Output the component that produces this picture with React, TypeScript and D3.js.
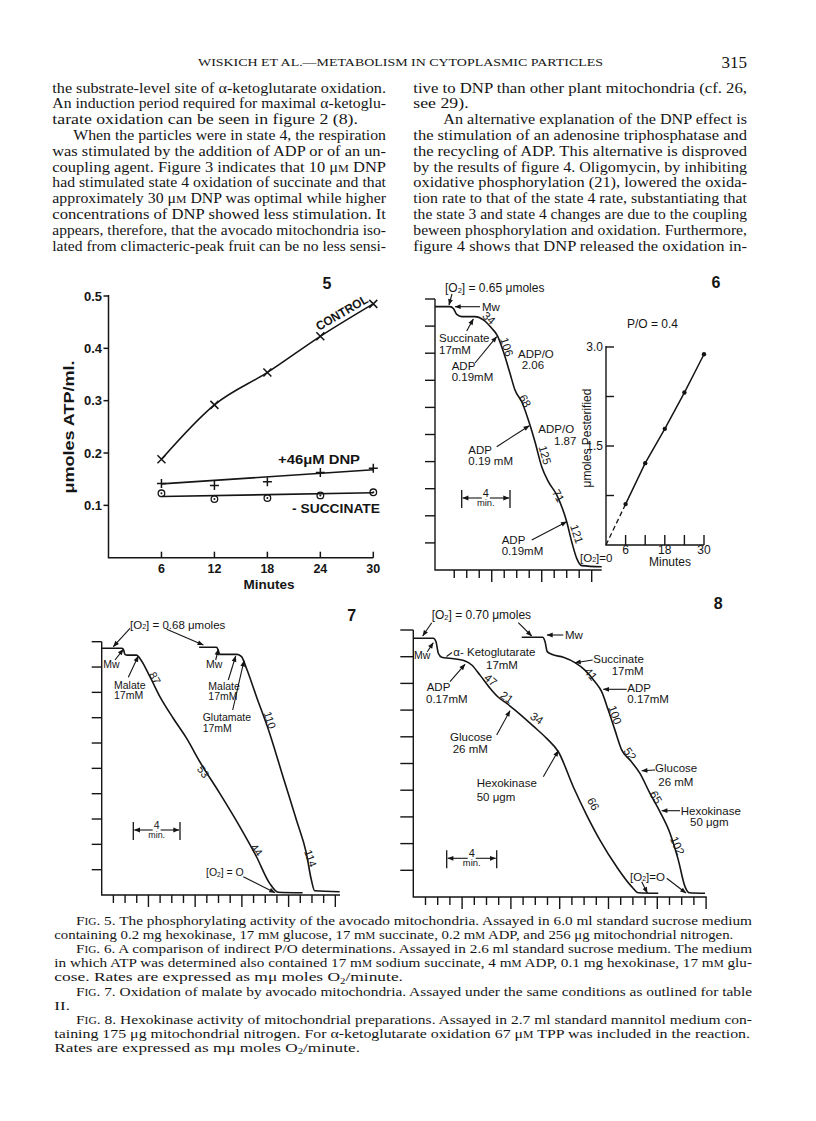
import React from "react";
import * as d3 from "d3";

// ---------- Fig. 5 : ATP formed vs time ----------
const minutes5 = [6, 12, 18, 24, 30];
const control5 = [0.188, 0.292, 0.354, 0.423, 0.485];
const dnp5 = [0.142, 0.138, 0.145, 0.163, 0.171];
const noSuccinate5 = [0.123, 0.112, 0.114, 0.119, 0.125];
const fitMinutes5 = [6, 30];
const dnpFit5 = [0.141, 0.168];
const noSuccinateFit5 = [0.117, 0.124];
const yTicks5 = [0.1, 0.2, 0.3, 0.4, 0.5];

// ---------- Fig. 6 : oxygen trace + P esterified ----------
const trace6Min = [0, 1.2, 1.47, 1.74, 2.14, 3.2, 3.87, 4.54, 4.99, 5.47, 6.0, 6.4, 6.94, 7.6, 8.0, 8.54, 9.07, 9.74, 10.54, 10.94, 11.34, 11.74, 13.34];
const trace6O2 = [9.72, 9.72, 9.65, 9.43, 9.35, 9.35, 9.23, 8.92, 8.65, 8.06, 7.26, 6.64, 6.21, 5.35, 4.73, 3.81, 3.26, 2.77, 1.78, 1.04, 0.43, 0.16, 0.12];
const minutes6 = [6, 12, 18, 24, 30];
const pEsterified6 = [0.62, 1.24, 1.76, 2.31, 2.89];
const yTicks6 = [0.75, 1.5, 2.25, 3.0];
const rates6 = ["34", "106", "68", "125", "71", "121"];

// ---------- Fig. 7 : malate traces ----------
const trace7aMin = [0, 1.71, 1.85, 1.99, 2.19, 2.99, 3.27, 4.13, 4.98, 6.12, 7.26, 8.4, 10.11, 11.82, 13.25, 14.38, 15.1, 17.2];
const trace7aO2 = [9.74, 9.74, 9.7, 9.5, 9.47, 9.47, 9.34, 8.62, 7.83, 6.98, 6.19, 5.26, 4.01, 2.7, 1.51, 0.46, 0.11, 0.09];
const trace7bMin = [8.34, 9.83, 9.97, 10.11, 11.59, 11.97, 12.39, 13.25, 14.38, 15.52, 16.67, 17.52, 17.95, 18.23, 20.37];
const trace7bO2 = [9.78, 9.78, 9.67, 9.5, 9.5, 9.41, 8.95, 7.83, 6.38, 4.67, 2.96, 1.65, 0.59, 0.17, 0.13];
const rates7 = ["87", "53", "44", "110", "114"];

// ---------- Fig. 8 : hexokinase traces ----------
const trace8aMin = [0, 1.64, 1.86, 2.05, 2.33, 3.0, 4.24, 4.79, 5.47, 6.29, 6.97, 7.66, 8.34, 9.84, 10.93, 11.89, 13.11, 14.21, 15.3, 16.67, 17.9, 18.44, 20.08];
const trace8aO2 = [9.69, 9.69, 9.56, 9.13, 8.98, 8.94, 8.84, 8.69, 8.31, 7.82, 7.48, 7.25, 7.0, 6.4, 5.94, 5.44, 4.13, 3.07, 2.13, 1.13, 0.39, 0.16, 0.14];
const trace8bMin = [8.89, 10.6, 10.8, 10.98, 11.34, 12.3, 13.25, 14.07, 14.89, 15.44, 15.98, 16.53, 17.08, 17.76, 18.58, 19.4, 20.22, 21.04, 21.72, 22.27, 22.62, 23.91];
const trace8bO2 = [9.73, 9.73, 9.56, 9.19, 9.09, 8.98, 8.78, 8.5, 8.06, 7.69, 7.0, 6.25, 5.51, 5.13, 4.63, 3.88, 3.19, 2.39, 1.39, 0.39, 0.16, 0.14];
const rates8 = ["47", "21", "34", "66", "41", "100", "52", "65", "102"];

// ---------- page text ----------
const headerText = "WISKICH ET AL.—METABOLISM IN CYTOPLASMIC PARTICLES";
const pageNumber = "315";
const leftColumn = [
  "the substrate-level site of α-ketoglutarate oxidation.",
  "An induction period required for maximal α-ketoglu-",
  "tarate oxidation can be seen in figure 2 (8).",
  "When the particles were in state 4, the respiration",
  "was stimulated by the addition of ADP or of an un-",
  "coupling agent.  Figure 3 indicates that 10 μ^{M} DNP",
  "had stimulated state 4 oxidation of succinate and that",
  "approximately 30 μ^{M} DNP was optimal while higher",
  "concentrations of DNP showed less stimulation.  It",
  "appears, therefore, that the avocado mitochondria iso-",
  "lated from climacteric-peak fruit can be no less sensi-",
];
const rightColumn = [
  "tive to DNP than other plant mitochondria (cf. 26,",
  "see 29).",
  "An alternative explanation of the DNP effect is",
  "the stimulation of an adenosine triphosphatase and",
  "the recycling of ADP.  This alternative is disproved",
  "by the results of figure 4.  Oligomycin, by inhibiting",
  "oxidative phosphorylation (21), lowered the oxida-",
  "tion rate to that of the state 4 rate, substantiating that",
  "the state 3 and state 4 changes are due to the coupling",
  "beween phosphorylation and oxidation.  Furthermore,",
  "figure 4 shows that DNP released the oxidation in-",
];
const captions = [
  "F^{IG}. 5.  The phosphorylating activity of the avocado mitochondria.  Assayed in 6.0 ml standard sucrose medium",
  "containing 0.2 mg hexokinase, 17 m^{M} glucose, 17 m^{M} succinate, 0.2 m^{M} ADP, and 256 μg mitochondrial nitrogen.",
  "F^{IG}. 6.  A comparison of indirect P/O determinations. Assayed in 2.6 ml standard sucrose medium.  The medium",
  "in which ATP was determined also contained 17 m^{M} sodium succinate, 4 m^{M} ADP, 0.1 mg hexokinase, 17 m^{M} glu-",
  "cose.  Rates are expressed as mμ moles O_{2}/minute.",
  "F^{IG}. 7.  Oxidation of malate by avocado mitochondria.  Assayed under the same conditions as outlined for table",
  "II.",
  "F^{IG}. 8.  Hexokinase activity of mitochondrial preparations.  Assayed in 2.7 ml standard mannitol medium con-",
  "taining 175 μg mitochondrial nitrogen.  For α-ketoglutarate oxidation 67 μ^{M} TPP was included in the reaction.",
  "Rates are expressed as mμ moles O_{2}/minute.",
];
// 0 = paragraph end, natural (widened) width
const leftStart = [52.3, 52.3, 52.3, 73.3, 52.3, 52.3, 52.3, 52.3, 52.3, 52.3, 52.3];
const leftEnd = [386, 386, 0, 386, 386, 386, 386, 386, 386, 386, 386];
const rightStart = [413.3, 413.3, 443.3, 413.3, 413.3, 413.3, 413.3, 413.3, 413.3, 413.3, 413.3];
const rightEnd = [747, 0, 747, 747, 747, 747, 747, 747, 747, 747, 747];
const capStart = [76, 54.3, 76, 54.3, 54.3, 76, 54.3, 76, 54.3, 54.3];
const capEnd = [752, 733.3, 752, 752, 0, 752, 0, 752, 750, 0];

const INK = "#151515";
const SANS = "'Liberation Sans', Arial, sans-serif";
const SERIF = "'Liberation Serif', 'Times New Roman', serif";

// natural width of a line in the serif face (markup stripped)
let ctx: CanvasRenderingContext2D | null = null;
function measure(s: string, fs: number) {
  if (!ctx) ctx = document.createElement("canvas").getContext("2d");
  const plain = s.replace(/[\^_]\{([^}]*)\}/g, "$1");
  if (!ctx) return plain.length * fs * 0.45;
  ctx.font = `${fs}px 'Liberation Serif'`;
  return ctx.measureText(plain).width;
}

// small markup: ^{..} small caps, _{..} subscript
function Rich({ s, fs }: { s: string; fs: number }) {
  const parts = s.split(/(\^\{[^}]*\}|_\{[^}]*\})/).filter((p) => p !== "");
  const shift = fs * 0.18;
  let sub = false;
  return (
    <>
      {parts.map((p, i) => {
        if (p.startsWith("^{")) {
          const dy = sub ? -shift : undefined;
          sub = false;
          return <tspan key={i} fontSize={fs * 0.74} dy={dy}>{p.slice(2, -1)}</tspan>;
        }
        if (p.startsWith("_{")) {
          sub = true;
          return <tspan key={i} fontSize={fs * 0.62} dy={shift}>{p.slice(2, -1)}</tspan>;
        }
        const dy = sub ? -shift : undefined;
        sub = false;
        return <tspan key={i} dy={dy}>{p}</tspan>;
      })}
    </>
  );
}

const path = (xs: number[], ys: number[], sx: any, sy: any, curve: any = d3.curveMonotoneX) =>
  d3.line<number>().x((_, i) => sx(xs[i])).y((d) => sy(d)).curve(curve)(ys) as string;

function Arrow({ a }: { a: number[] }) {
  return <line x1={a[0]} y1={a[1]} x2={a[2]} y2={a[3]} stroke={INK} strokeWidth={1.1} markerEnd="url(#ah)" />;
}

function Label({ x, y, s, fs = 11.5 }: { x: number; y: number; s: string; fs?: number }) {
  return (
    <text x={x} y={y} fontSize={fs} dominantBaseline="central" fill={INK}>
      <Rich s={s} fs={fs} />
    </text>
  );
}

function Rate({ x, y, a, s, fs = 11.5 }: { x: number; y: number; a: number; s: string; fs?: number }) {
  return (
    <text x={x} y={y} fontSize={fs} textAnchor="middle" dominantBaseline="central" fill={INK} transform={`rotate(${a},${x},${y})`}>
      {s}
    </text>
  );
}

function FourMin({ x1, x2, y, fs = 11 }: { x1: number; x2: number; y: number; fs?: number }) {
  const c = (x1 + x2) / 2;
  return (
    <g fill={INK}>
      <line x1={x1} x2={x1} y1={y - 8} y2={y + 10} stroke={INK} strokeWidth={1.3} />
      <line x1={x2} x2={x2} y1={y - 8} y2={y + 10} stroke={INK} strokeWidth={1.3} />
      <line x1={c - 4} x2={x1 + 1} y1={y} y2={y} stroke={INK} strokeWidth={1.1} markerEnd="url(#ah)" />
      <line x1={c + 4} x2={x2 - 1} y1={y} y2={y} stroke={INK} strokeWidth={1.1} markerEnd="url(#ah)" />
      <text x={c} y={y - 1} fontSize={fs} textAnchor="middle">4</text>
      <text x={c} y={y + 8} fontSize={fs * 0.85} textAnchor="middle">min.</text>
    </g>
  );
}

// chart-paper axes: 10 divisions up the left side, minute ticks along the bottom
function TraceAxes({ sx, sy, minutes, tick, offset = 0 }: { sx: any; sy: any; minutes: number; tick: number; offset?: number }) {
  const [x0, x1] = sx.range();
  const y0 = sy(0);
  return (
    <g stroke={INK} strokeWidth={1.4} fill="none">
      <path d={`M${x0},${sy(10)}V${y0}H${x1}`} />
      {d3.range(1, 11).map((v) => (
        <line key={"v" + v} x1={x0 - tick} x2={x0} y1={sy(v)} y2={sy(v)} />
      ))}
      {d3.range(1, minutes + 1).map((k) => (
        <line key={"t" + k} x1={sx(k + offset)} x2={sx(k + offset)} y1={y0} y2={y0 + (k % 4 === 0 ? 12 : 8)} />
      ))}
    </g>
  );
}

function PageText() {
  const base = 92.5;
  const lh = 15.8;
  // the printed face is wider than Times: widen every line
  const line = (s: string, x0: number, x1: number, y: number, fs: number, k: number, key: string) => (
    <text key={key} x={x0} y={y} fontSize={fs} textLength={x1 > 0 ? x1 - x0 : measure(s, fs) * k} lengthAdjust="spacingAndGlyphs">
      <Rich s={s} fs={fs} />
    </text>
  );
  return (
    <g fontFamily={SERIF} fill={INK}>
      <text x={198} y={66} fontSize={10.5} textLength={405} lengthAdjust="spacingAndGlyphs">{headerText}</text>
      <text x={747} y={68} fontSize={17} textAnchor="end">{pageNumber}</text>
      {leftColumn.map((s, i) => line(s, leftStart[i], leftEnd[i], base + i * lh, 14, 1.27, "l" + i))}
      {rightColumn.map((s, i) => line(s, rightStart[i], rightEnd[i], base + i * lh, 14, 1.27, "r" + i))}
      {captions.map((s, i) => line(s, capStart[i], capEnd[i], 925 + i * 14.1, 13, 1.31, "c" + i))}
    </g>
  );
}

function Fig5() {
  const x = d3.scaleLinear().domain([0, 30]).range([108.5, 373.3]);
  const y = d3.scaleLinear().domain([0, 0.5]).range([557.7, 296]);
  return (
    <g fontFamily={SANS} fill={INK} fontWeight="bold">
      <g stroke={INK} strokeWidth={1.5} fill="none">
        <path d={`M${x(0)},${y(0.5) - 1}V${y(0)}H${x(30)}`} />
        {yTicks5.map((v) => (
          <line key={v} x1={x(0) - 5} x2={x(0)} y1={y(v)} y2={y(v)} />
        ))}
        {minutes5.map((m) => (
          <line key={m} x1={x(m)} x2={x(m)} y1={y(0)} y2={y(0) - 6} />
        ))}
        <path d={path(minutes5, control5, x, y)} strokeWidth={1.6} />
        <path d={path(fitMinutes5, dnpFit5, x, y, d3.curveLinear)} strokeWidth={1.6} />
        <path d={path(fitMinutes5, noSuccinateFit5, x, y, d3.curveLinear)} strokeWidth={1.6} />
        {minutes5.map((m, i) => (
          <path key={"c" + m} d={`M${x(m) - 4},${y(control5[i]) - 4}L${x(m) + 4},${y(control5[i]) + 4}M${x(m) - 4},${y(control5[i]) + 4}L${x(m) + 4},${y(control5[i]) - 4}`} strokeWidth={1.5} />
        ))}
        {minutes5.map((m, i) => (
          <path key={"d" + m} d={`M${x(m) - 4.5},${y(dnp5[i])}H${x(m) + 4.5}M${x(m)},${y(dnp5[i]) - 4.5}V${y(dnp5[i]) + 4.5}`} strokeWidth={1.5} />
        ))}
        {minutes5.map((m, i) => (
          <circle key={"s" + m} cx={x(m)} cy={y(noSuccinate5[i])} r={3.3} strokeWidth={1.3} />
        ))}
      </g>
      {minutes5.map((m, i) => (
        <circle key={"sd" + m} cx={x(m)} cy={y(noSuccinate5[i])} r={1} />
      ))}
      {yTicks5.map((v) => (
        <text key={v} x={102} y={y(v)} fontSize={13} textAnchor="end" dominantBaseline="central">
          {v.toFixed(1)}
        </text>
      ))}
      {minutes5.map((m) => (
        <text key={m} x={x(m)} y={569} fontSize={12.5} textAnchor="middle" dominantBaseline="central">
          {m}
        </text>
      ))}
      <text x={269} y={584.5} fontSize={13.5} textAnchor="middle" dominantBaseline="central">Minutes</text>
      <text x={68.5} y={427} fontSize={14} textAnchor="middle" dominantBaseline="central" transform="rotate(-90,68.5,427)" textLength={133} lengthAdjust="spacingAndGlyphs">
        μmoles ATP/ml.
      </text>
      <text x={327} y={283} fontSize={16} textAnchor="middle" dominantBaseline="central">5</text>
      <text x={342} y={313} fontSize={12.5} textAnchor="middle" dominantBaseline="central" transform="rotate(-30,342,313)" textLength={58} lengthAdjust="spacingAndGlyphs">
        CONTROL
      </text>
      <text x={278} y={459} fontSize={13} dominantBaseline="central" textLength={82} lengthAdjust="spacingAndGlyphs">+46μM DNP</text>
      <text x={292} y={508} fontSize={13} dominantBaseline="central" textLength={88} lengthAdjust="spacingAndGlyphs">- SUCCINATE</text>
    </g>
  );
}

function Fig6() {
  const x = d3.scaleLinear().domain([0, 13.34]).range([435, 601.7]);
  const y = d3.scaleLinear().domain([0, 10]).range([570, 299]);
  const xr = d3.scaleLinear().domain([0, 30]).range([606, 704]);
  const yr = d3.scaleLinear().domain([0, 3]).range([545, 347]);
  const ratePos = [
    [489, 318, 42],
    [506.7, 347, 72],
    [525, 401, 62],
    [545, 455, 74],
    [558.3, 495.7, 60],
    [576.7, 534, 72],
  ];
  return (
    <g fontFamily={SANS} fill={INK}>
      <TraceAxes sx={x} sy={y} minutes={12} tick={10} offset={0.54} />
      <path d={path(trace6Min, trace6O2, x, y)} fill="none" stroke={INK} strokeWidth={1.6} />
      {rates6.map((r, i) => (
        <Rate key={i} x={ratePos[i][0]} y={ratePos[i][1]} a={ratePos[i][2]} s={r} />
      ))}
      <Label x={445} y={288} s="[O_{2}] = 0.65 μmoles" fs={12} />
      <Label x={482} y={307} s="Mw" />
      <Label x={439} y={338} s="Succinate" />
      <Label x={439} y={350} s="17mM" />
      <Label x={451.7} y={365.7} s="ADP" />
      <Label x={451.7} y={376.7} s="0.19mM" />
      <Label x={518} y={354} s="ADP/O" />
      <Label x={521.7} y={364.5} s="2.06" />
      <Label x={538.3} y={429} s="ADP/O" />
      <Label x={554} y={440.7} s="1.87" />
      <Label x={468.3} y={450} s="ADP" />
      <Label x={468.3} y={461} s="0.19 mM" />
      <Label x={501.7} y={540} s="ADP" />
      <Label x={501.7} y={551} s="0.19mM" />
      <Label x={580} y={557.7} s="[O_{2}]=0" />
      <Arrow a={[452, 294, 449, 305]} />
      <Arrow a={[480, 306.7, 455, 306.7]} />
      <Arrow a={[466.7, 331, 473.3, 319]} />
      <Arrow a={[475, 363, 496.7, 336.7]} />
      <Arrow a={[496.7, 446.7, 529.3, 425.7]} />
      <Arrow a={[531.7, 540, 566.7, 521.7]} />
      <FourMin x1={461.7} x2={510} y={498} />

      <g stroke={INK} strokeWidth={1.4} fill="none">
        <path d={`M${xr(0)},${yr(3) - 1}V${yr(0)}H${xr(30)}`} />
        {yTicks6.map((v) => (
          <line key={v} x1={xr(0)} x2={xr(0) + 8} y1={yr(v)} y2={yr(v)} />
        ))}
        {minutes6.map((m) => (
          <line key={m} x1={xr(m)} x2={xr(m)} y1={yr(0)} y2={yr(0) - 10} />
        ))}
        <path d={path([0, minutes6[0]], [0, pEsterified6[0]], xr, yr, d3.curveLinear)} strokeDasharray="5,3" strokeWidth={1.3} />
        <path d={path(minutes6, pEsterified6, xr, yr, d3.curveLinear)} strokeWidth={1.5} />
      </g>
      {minutes6.map((m, i) => (
        <circle key={m} cx={xr(m)} cy={yr(pEsterified6[i])} r={2.2} />
      ))}
      {[3.0, 1.5].map((v) => (
        <text key={v} x={603} y={yr(v)} fontSize={12} textAnchor="end" dominantBaseline="central">
          {v.toFixed(1)}
        </text>
      ))}
      {[6, 18, 30].map((m) => (
        <text key={m} x={xr(m)} y={550} fontSize={12} textAnchor="middle" dominantBaseline="central">
          {m}
        </text>
      ))}
      <text x={670} y={562} fontSize={12} textAnchor="middle" dominantBaseline="central">Minutes</text>
      <text x={587} y={438} fontSize={12} textAnchor="middle" dominantBaseline="central" transform="rotate(-90,587,438)">
        μmoles Pesterified
      </text>
      <text x={627} y={324} fontSize={12} dominantBaseline="central">P/O = 0.4</text>
      <text x={716} y={282} fontSize={16} fontWeight="bold" textAnchor="middle" dominantBaseline="central">6</text>
    </g>
  );
}

function Fig7() {
  const x = d3.scaleLinear().domain([0, 20.4]).range([101.7, 340]);
  const y = d3.scaleLinear().domain([0, 10]).range([895, 641.7]);
  const ratePos = [
    [155, 678, 62],
    [203.3, 771.7, 55],
    [256.7, 850, 50],
    [270, 720, 72],
    [310.7, 858.3, 70],
  ];
  return (
    <g fontFamily={SANS} fill={INK}>
      <TraceAxes sx={x} sy={y} minutes={20} tick={10} />
      <path d={path(trace7aMin, trace7aO2, x, y)} fill="none" stroke={INK} strokeWidth={1.6} />
      <path d={path(trace7bMin, trace7bO2, x, y)} fill="none" stroke={INK} strokeWidth={1.6} />
      {rates7.map((r, i) => (
        <Rate key={i} x={ratePos[i][0]} y={ratePos[i][1]} a={ratePos[i][2]} s={r} fs={11} />
      ))}
      <Label x={130} y={625} s="[O_{2}] = 0.68 μmoles" fs={11.5} />
      <Label x={103.3} y={664} s="Mw" fs={10.5} />
      <Label x={114} y={684.5} s="Malate" fs={10.5} />
      <Label x={114} y={694.5} s="17mM" fs={10.5} />
      <Label x={206} y={664} s="Mw" fs={10.5} />
      <Label x={208.3} y={685.7} s="Malate" fs={10.5} />
      <Label x={208.3} y={696} s="17mM" fs={10.5} />
      <Label x={202.7} y={716.7} s="Glutamate" fs={10.5} />
      <Label x={202.7} y={727.7} s="17mM" fs={10.5} />
      <Label x={206} y={871.7} s="[O_{2}] = O" fs={10.5} />
      <Arrow a={[130, 628.3, 113.3, 646.7]} />
      <Arrow a={[166.7, 629.3, 203.3, 645]} />
      <Arrow a={[115, 660, 123.3, 649.3]} />
      <Arrow a={[128.3, 677.3, 138.3, 656]} />
      <Arrow a={[215.7, 660, 218.3, 649.3]} />
      <Arrow a={[228.3, 680, 235.7, 656]} />
      <Arrow a={[232.7, 710, 244, 660.7]} />
      <Arrow a={[243.3, 876.7, 275, 892.7]} />
      <FourMin x1={133.3} x2={180} y={830} fs={10.5} />
      <text x={351.7} y={615} fontSize={16} fontWeight="bold" textAnchor="middle" dominantBaseline="central">7</text>
    </g>
  );
}

function Fig8() {
  const x = d3.scaleLinear().domain([0, 24.05]).range([413.3, 706.7]);
  const y = d3.scaleLinear().domain([0, 10]).range([897, 630]);
  const ratePos = [
    [490.7, 680, 40],
    [506.7, 697.3, 35],
    [536.7, 718.3, 35],
    [593.3, 804, 62],
    [590.7, 674, 50],
    [615, 715, 70],
    [630, 754, 55],
    [656, 797.3, 60],
    [677.3, 845.7, 65],
  ];
  return (
    <g fontFamily={SANS} fill={INK}>
      <TraceAxes sx={x} sy={y} minutes={24} tick={13} />
      <path d={path(trace8aMin, trace8aO2, x, y)} fill="none" stroke={INK} strokeWidth={1.6} />
      <path d={path(trace8bMin, trace8bO2, x, y)} fill="none" stroke={INK} strokeWidth={1.6} />
      {rates8.map((r, i) => (
        <Rate key={i} x={ratePos[i][0]} y={ratePos[i][1]} a={ratePos[i][2]} s={r} />
      ))}
      <Label x={431.7} y={615} s="[O_{2}] = 0.70 μmoles" fs={12} />
      <Label x={414} y={655} s="Mw" fs={10.5} />
      <line x1={446.5} y1={656.5} x2={452} y2={652.5} stroke={INK} strokeWidth={1.1} />
      <Label x={453.3} y={651.7} s="α- Ketoglutarate" />
      <Label x={486} y={665} s="17mM" />
      <Label x={426.7} y={687.3} s="ADP" />
      <Label x={426} y={699.3} s="0.17mM" />
      <Label x={450} y={737.3} s="Glucose" />
      <Label x={452.7} y={749} s="26 mM" />
      <Label x={476.7} y={783.3} s="Hexokinase" />
      <Label x={476.7} y={797.3} s="50 μgm" />
      <Label x={630} y={876.7} s="[O_{2}]=O" />
      <Label x={565} y={635} s="Mw" />
      <Label x={593.3} y={659.3} s="Succinate" />
      <Label x={611.7} y={670.7} s="17mM" />
      <Label x={627.3} y={688.3} s="ADP" />
      <Label x={627.3} y={699.3} s="0.17mM" />
      <Label x={655} y={768.3} s="Glucose" />
      <Label x={658.3} y={781.7} s="26 mM" />
      <Label x={680.7} y={810.7} s="Hexokinase" />
      <Label x={690} y={822.3} s="50 μgm" />
      <Arrow a={[431.7, 622.7, 422.7, 636]} />
      <Arrow a={[518.3, 622.7, 531.7, 636]} />
      <Arrow a={[427.3, 651.7, 433.3, 642.7]} />
      <Arrow a={[450, 681.7, 465, 664.3]} />
      <Arrow a={[496.7, 735, 510, 710.7]} />
      <Arrow a={[543.3, 776.7, 558.3, 750.7]} />
      <Arrow a={[641.7, 881.7, 647.3, 893]} />
      <Arrow a={[666.7, 878.3, 686, 893]} />
      <Arrow a={[563.3, 635, 547, 635]} />
      <Arrow a={[592.7, 660, 575, 662.7]} />
      <Arrow a={[626.7, 689.3, 603.3, 689.3]} />
      <Arrow a={[655, 770, 641.7, 770.7]} />
      <Arrow a={[680, 810.7, 661.7, 810.7]} />
      <FourMin x1={446.7} x2={496.7} y={858.3} />
      <text x={718.3} y={603} fontSize={16} fontWeight="bold" textAnchor="middle" dominantBaseline="central">8</text>
    </g>
  );
}

export default function App() {
  return (
    <svg
      width={816}
      height={1121}
      viewBox="0 0 816 1121"
      style={{ position: "absolute", left: 0, top: 0, background: "#fff" }}
    >
      <defs>
        <marker id="ah" viewBox="0 0 10 10" refX="9.5" refY="5" markerWidth="7" markerHeight="6" markerUnits="userSpaceOnUse" orient="auto">
          <path d="M0,1 L10,5 L0,9 z" fill={INK} />
        </marker>
      </defs>
      <PageText />
      <Fig5 />
      <Fig6 />
      <Fig7 />
      <Fig8 />
    </svg>
  );
}
